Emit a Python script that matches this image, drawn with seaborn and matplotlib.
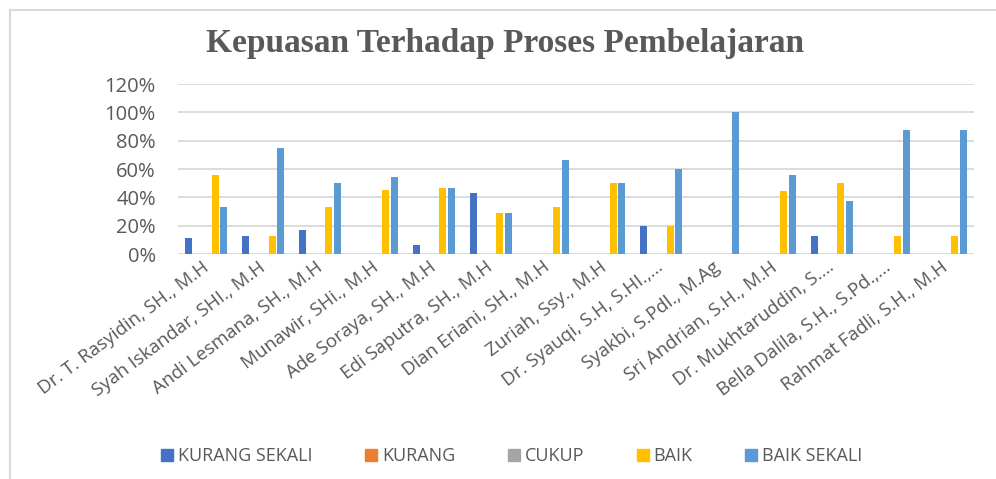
import pandas as pd
import numpy as np
import matplotlib
matplotlib.use('Agg')
import matplotlib.pyplot as plt
import seaborn as sns
from matplotlib.ticker import FuncFormatter
from matplotlib.lines import Line2D

# Data (fractions of respondents per lecturer)
dosen = [
    'Dr. T. Rasyidin, SH., M.H', 'Syah Iskandar, SHI., M.H', 'Andi Lesmana, SH., M.H',
    'Munawir, SHi., M.H', 'Ade Soraya, SH., M.H', 'Edi Saputra, SH., M.H',
    'Dian Eriani, SH., M.H', 'Zuriah, Ssy., M.H', 'Dr. Syauqi, S.H, S.HI.,…',
    'Syakbi, S.Pdl., M.Ag', 'Sri Andrian, S.H., M.H', 'Dr. Mukhtaruddin, S.…',
    'Bella Dalila, S.H., S.Pd.,…', 'Rahmat Fadli, S.H., M.H',
]
kategori = ['KURANG SEKALI', 'KURANG', 'CUKUP', 'BAIK', 'BAIK SEKALI']

kurang_sekali = [0.111, 0.125, 0.167, 0.0, 0.067, 0.429, 0.0, 0.0, 0.20, 0.0, 0.0, 0.125, 0.0, 0.0]
kurang = [0.0] * 14
cukup = [0.0] * 14
baik = [0.556, 0.125, 0.333, 0.455, 0.467, 0.286, 0.333, 0.50, 0.20, 0.0, 0.444, 0.50, 0.125, 0.125]
baik_sekali = [0.333, 0.75, 0.50, 0.545, 0.467, 0.286, 0.667, 0.50, 0.60, 1.0, 0.556, 0.375, 0.875, 0.875]

warna = ['#4472C4', '#ED7D31', '#A5A5A5', '#FFC000', '#5B9BD5']

rows = []
for k, vals in zip(kategori, [kurang_sekali, kurang, cukup, baik, baik_sekali]):
    for d, v in zip(dosen, vals):
        rows.append({'dosen': d, 'kategori': k, 'nilai': v})
df = pd.DataFrame(rows)

sns.set_theme(style='white')
plt.rcParams['font.family'] = ['Open Sans', 'DejaVu Sans']
txt = '#595959'

fig = plt.figure(figsize=(9.96, 4.79), dpi=100)
ax = fig.add_axes([0.1787, 0.4697, 0.7993, 0.3549])

sns.barplot(data=df, x='dosen', y='nilai', hue='kategori', order=dosen,
            hue_order=kategori, palette=warna, saturation=1, width=0.77, gap=0.2,
            edgecolor='none', legend=False, ax=ax)

ax.set_ylim(0, 1.2)
ax.set_xlim(-0.5, len(dosen) - 0.5)
ax.set_yticks(np.arange(0, 1.21, 0.2))
ax.yaxis.set_major_formatter(FuncFormatter(lambda v, p: f'{v*100:.0f}%'))
ax.grid(axis='y', color='#D9D9D9', linewidth=1.3)
ax.set_axisbelow(True)
for s in ax.spines.values():
    s.set_visible(False)
ax.tick_params(axis='y', length=0, pad=16, labelsize=14.5, labelcolor=txt)
ax.tick_params(axis='x', length=0, pad=8, labelsize=13.5, labelcolor=txt)
ax.set_xlabel('')
ax.set_ylabel('')
plt.setp(ax.get_xticklabels(), rotation=37, ha='right', va='center', rotation_mode='anchor')

fig.text(0.507, 0.91, 'Kepuasan Terhadap Proses Pembelajaran', ha='center', va='center',
         fontsize=24, fontweight='bold', color=txt, family='Liberation Serif')

handles = [Line2D([0], [0], marker='s', linestyle='none', markersize=8,
                  markerfacecolor=c, markeredgecolor=c) for c in warna]
fig.legend(handles, kategori, loc='center', bbox_to_anchor=(0.513, 0.047), ncol=5,
           frameon=False, fontsize=13, labelcolor=txt, handletextpad=0.2,
           columnspacing=2.85, handlelength=0.8)

# frame lines of the original picture (top and left)
fig.add_artist(Line2D([0.0105, 1.0], [0.979, 0.979], color='#D9D9D9', linewidth=1.5,
                      transform=fig.transFigure))
fig.add_artist(Line2D([0.0105, 0.0105], [0.0, 0.979], color='#D9D9D9', linewidth=1.5,
                      transform=fig.transFigure))

fig.savefig('out.png', dpi=100)
